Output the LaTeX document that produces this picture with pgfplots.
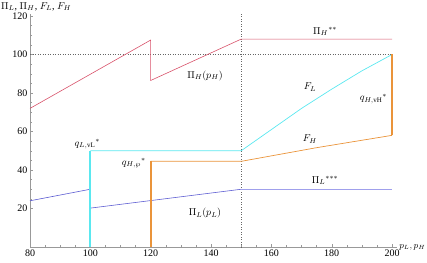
\documentclass[border=0pt]{standalone}
\usepackage{fontspec}
\setmainfont{Liberation Serif}
\usepackage{pgfplots}
\pgfplotsset{compat=1.18}
\definecolor{cred}{RGB}{216,82,106}
\definecolor{cblue}{RGB}{92,92,210}
\definecolor{clblue}{RGB}{160,160,236}
\definecolor{ccyan}{RGB}{90,232,240}
\definecolor{corange}{RGB}{234,148,58}
\begin{document}
\fontsize{10}{12}\selectfont
\begin{tikzpicture}
\begin{axis}[name=ax, anchor=south west, at={(0,0)},
  x=3.017pt, y=1.925pt, xmin=80, xmax=201.6, ymin=0, ymax=121,
  axis lines=left, axis line style={-, gray!80},
  xtick={80,100,...,200}, ytick={20,40,...,120},
  minor tick num=3, tick align=inside,
  major tick length=3pt, minor tick length=1.6pt,
  tick style={gray!80, thin},
  /pgf/number format/assume math mode=true,
  xticklabel style={yshift=1pt}, yticklabel style={xshift=1pt},
  clip=false]
% dotted guides
\addplot[dotted, gray!80!black, line width=0.5pt] coordinates {(150,0) (150,121)};
\addplot[dotted, gray!80!black, line width=0.5pt] coordinates {(80,100) (200,100)};
% Pi_H
\addplot[cred, line width=0.6pt] coordinates {(80,72) (120,107.5) (120,86.5) (150,108) (200,108)};
% Pi_L
\addplot[cblue, line width=0.6pt] coordinates {(80,24) (100,30) (100,20.2) (150,30)};
\addplot[clblue, line width=1.1pt] coordinates {(150,30) (200,30)};
% F_L
\addplot[ccyan, line width=0.7pt] coordinates {(100,50) (150,50) (160,61) (170,72) (180,82) (190,91.5) (200,100)};
\addplot[ccyan, line width=2pt] coordinates {(100,0) (100,50)};
% F_H
\addplot[corange, line width=0.7pt] coordinates {(120,44.5) (150,44.5) (175,51.6) (200,58)};
\addplot[corange, line width=2pt] coordinates {(120,0) (120,44.5)};
\addplot[corange, line width=2pt] coordinates {(200,58) (200,100)};
% labels
\node at (axis cs:138,89) {$\Pi_H(p_H)$};
\node at (axis cs:177.8,111.8) {$\Pi_H{}^{**}$};
\node at (axis cs:172.8,83) {$F_L$};
\node[anchor=east] at (axis cs:199.5,77) {$q_{H,\mathrm{vH}}{}^{*}$};
\node at (axis cs:172.8,56) {$F_H$};
\node at (axis cs:177.8,34.5) {$\Pi_L{}^{***}$};
\node at (axis cs:138,17.5) {$\Pi_L(p_L)$};
\node at (axis cs:99,53.5) {$q_{L,\mathrm{vL}}{}^{*}$};
\node[anchor=east] at (axis cs:119.5,43.5) {$q_{H,\wp}{}^{*}$};
\node[anchor=west, inner sep=0pt] at (axis cs:70.4,125) {$\Pi_L$, $\Pi_H$, $F_L$, $F_H$};
\node[anchor=west, inner sep=1pt, font=\fontsize{9}{10}\selectfont] at (axis cs:202,0) {$p_L,p_H$};
\end{axis}
\pgfresetboundingbox
\path ([shift={(-30pt,-15pt)}]ax.south west) rectangle ([shift={(397pt,247pt)}]ax.south west);
\end{tikzpicture}
\end{document}
